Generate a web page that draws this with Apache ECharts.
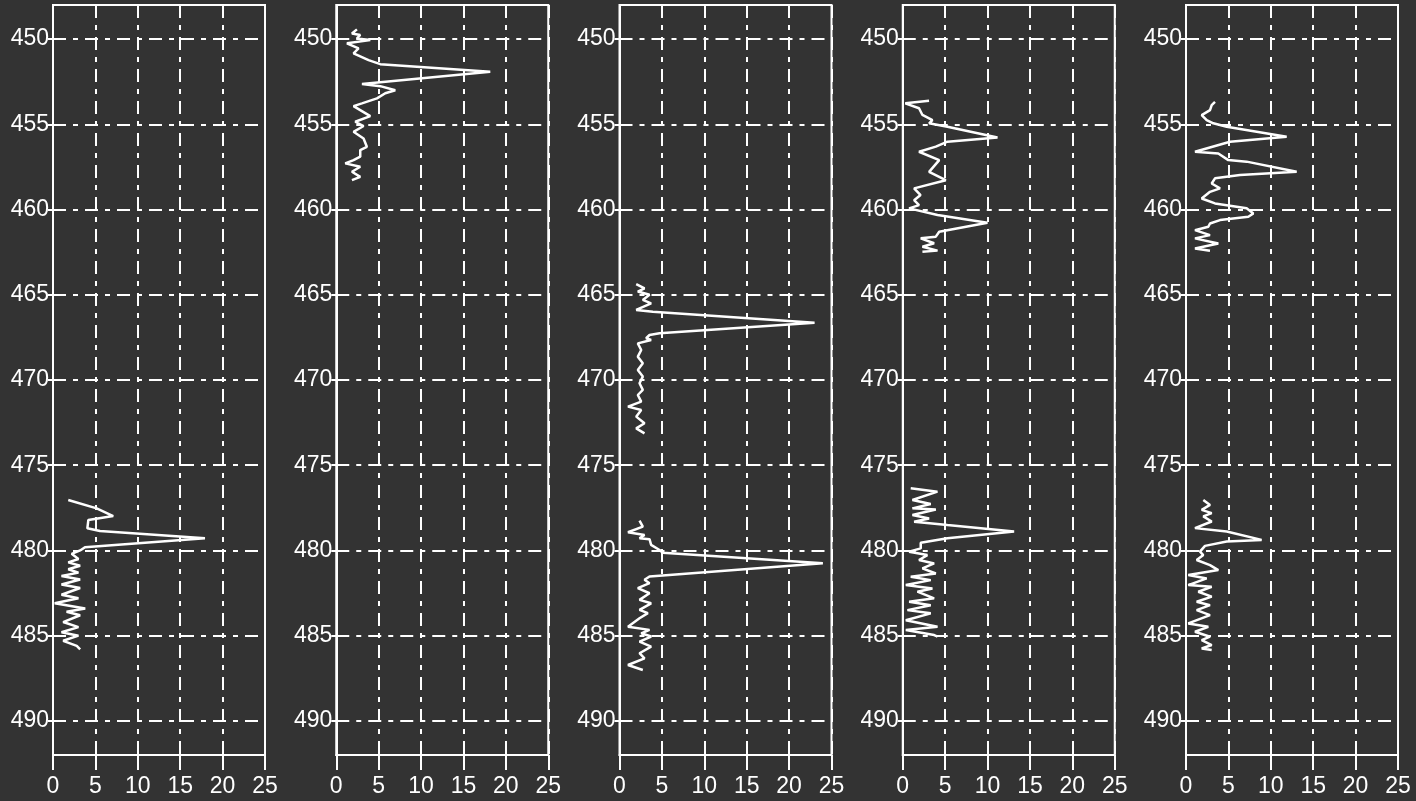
<!DOCTYPE html>
<html>
<head>
<meta charset="utf-8">
<script src="https://cdn.jsdelivr.net/npm/echarts@6/dist/echarts.min.js"></script>
<style>
  html, body { margin: 0; padding: 0; background: #333333; }
  #chart { width: 1416px; height: 801px; }
</style>
</head>
<body>
<div id="chart"></div>
<script>
// ---- Data (depth vs value, one curve per panel) ----
const depthTicks = [450, 455, 460, 465, 470, 475, 480, 485, 490];
const valueTicks = [0, 5, 10, 15, 20, 25];

const p1Depth = [477.04, 477.53, 477.98, 478.21, 478.70, 478.86, 479.29, 479.81, 480.0, 480.2, 480.5, 480.7, 480.9, 481.1, 481.3, 481.5, 481.7, 482.0, 482.2, 482.6, 482.8, 483.1, 483.4, 483.6, 483.8, 484.2, 484.5, 484.8, 485.0, 485.3, 485.6, 485.8];
const p1Value = [1.8, 5.15, 7.1, 4.17, 4.05, 5.54, 17.92, 3.77, 3.2, 2.2, 3.0, 1.8, 3.2, 1.8, 3.0, 1.0, 3.2, 1.0, 3.2, 1.0, 3.0, 0.2, 3.8, 1.6, 3.2, 1.2, 3.0, 1.0, 3.0, 1.2, 2.8, 3.2];

const p2Depth = [449.43, 449.67, 449.76, 449.96, 450.06, 450.25, 450.55, 450.84, 451.23, 451.47, 451.92, 452.64, 452.76, 453.0, 453.18, 453.48, 453.77, 453.93, 454.52, 454.85, 455.1, 455.44, 455.83, 456.32, 456.51, 456.9, 457.1, 457.29, 457.49, 457.78, 458.08, 458.27];
const p2Value = [2.44, 1.85, 2.83, 2.44, 4.01, 1.26, 2.63, 2.04, 3.81, 5.19, 18.16, 3.03, 5.19, 6.96, 5.78, 4.8, 3.03, 2.04, 4.01, 2.24, 3.22, 2.04, 3.22, 3.61, 2.83, 2.83, 2.04, 1.06, 2.83, 1.85, 2.83, 1.85];

const p3Depth = [464.37, 464.62, 464.81, 465.0, 465.3, 465.5, 465.89, 465.99, 466.64, 467.26, 467.36, 467.55, 467.65, 467.85, 468.24, 468.63, 469.02, 469.41, 469.8, 470.19, 470.58, 470.88, 471.27, 471.56, 471.76, 472.15, 472.54, 472.84, 473.13, null,
  478.25, 478.6, 478.93, 479.09, 479.28, 479.34, 479.67, 479.97, 480.13, 480.75, 481.53, 481.72, 481.92, 482.21, 482.51, 482.9, 483.1, 483.49, 483.68, 483.98, 484.47, 484.66, 484.86, 485.05, 485.35, 485.64, 486.03, 486.33, 486.72, 487.01];
const p3Value = [1.97, 2.95, 2.16, 3.54, 2.75, 3.73, 1.97, 3.93, 23.0, 4.72, 3.54, 3.14, 3.73, 2.16, 2.56, 2.16, 2.75, 2.16, 2.75, 2.36, 2.75, 2.16, 2.56, 1.0, 2.56, 1.97, 2.95, 1.97, 2.95, null,
  2.36, 2.75, 1.0, 2.95, 2.36, 3.54, 3.73, 4.72, 5.11, 23.98, 3.54, 2.95, 3.54, 2.16, 3.54, 2.36, 3.73, 2.36, 3.34, 2.36, 1.0, 3.54, 2.56, 3.73, 2.36, 3.73, 2.36, 2.95, 1.0, 2.75];

const p4Depth = [453.62, 453.77, 454.06, 454.45, 454.75, 454.94, 455.14, 455.77, 456.02, 456.31, 456.61, 457.1, 457.79, 458.28, 458.76, 459.15, 459.45, 459.74, 459.93, 460.32, 460.77, 461.3, 461.59, 461.69, 461.98, 462.18, 462.41, 462.47, null,
  476.35, 476.55, 477.04, 477.28, 477.53, 477.6, 477.92, 478.12, 478.31, 478.51, 478.89, 479.29, 479.55, 479.88, 480.07, 480.27, 480.56, 480.76, 481.05, 481.35, 481.54, 481.74, 482.03, 482.23, 482.42, 482.81, 483.01, 483.21, 483.5, 483.69, 484.09, 484.48, 484.67, 484.96, 485.06];
const p4Value = [3.1, 0.3, 1.92, 2.32, 3.5, 3.11, 5.27, 11.17, 5.27, 3.9, 1.92, 4.3, 3.11, 5.07, 1.34, 2.1, 1.34, 1.92, 0.75, 4.1, 9.99, 4.3, 3.9, 2.12, 3.7, 2.32, 4.1, 2.32, null,
  0.94, 4.09, 1.14, 3.3, 1.14, 3.9, 1.14, 3.11, 1.34, 5.27, 13.13, 5.27, 2.12, 2.12, 0.75, 2.9, 1.92, 3.7, 2.32, 3.9, 0.94, 3.3, 0.36, 3.5, 1.73, 3.7, 0.75, 3.3, 0.55, 3.3, 0.36, 4.1, 0.36, 3.7, 4.1];

const p5Depth = [453.68, 453.87, 454.17, 454.46, 454.75, 454.94, 455.14, 455.73, 456.02, 456.61, 456.71, 457.1, 457.19, 457.78, 457.98, 458.17, 458.47, 458.76, 458.96, 459.35, 459.64, 459.93, 460.23, 460.42, 460.62, 460.82, 461.01, 461.21, 461.5, 461.69, 461.99, 462.28, 462.42, null,
  477.04, 477.33, 477.62, 477.81, 478.0, 478.3, 478.69, 478.89, 479.38, 479.48, 479.73, 480.07, 480.27, 480.56, 480.86, 481.15, 481.44, 481.64, 482.03, 482.13, 482.42, 482.71, 483.01, 483.21, 483.5, 483.79, 484.28, 484.48, 484.77, 485.06, 485.26, 485.55, 485.75, 485.84];
const p5Value = [3.42, 3.03, 2.83, 1.85, 2.44, 3.22, 4.8, 11.87, 5.19, 1.06, 3.81, 4.99, 7.15, 13.05, 6.37, 3.42, 3.03, 4.01, 2.83, 1.85, 3.42, 7.15, 7.94, 7.35, 4.01, 2.83, 2.63, 1.06, 2.83, 1.06, 3.81, 1.06, 2.83, null,
  2.04, 2.83, 1.85, 3.03, 2.04, 3.03, 1.06, 4.8, 8.92, 4.8, 2.24, 1.65, 2.04, 1.26, 2.83, 3.81, 0.27, 2.44, 0.27, 3.03, 1.45, 3.03, 1.26, 2.83, 1.26, 2.83, 0.27, 2.63, 1.06, 2.83, 1.85, 3.03, 1.85, 3.03];

const panels = [
  [p1Value, p1Depth], [p2Value, p2Depth], [p3Value, p3Depth], [p4Value, p4Depth], [p5Value, p5Depth]
];

// ---- Chart ----
const chart = echarts.init(document.getElementById('chart'), null, { renderer: 'canvas' });
const white = '#ffffff';
const font = 'Liberation Sans, Arial, sans-serif';
const dash = [13, 7, 5, 7];

const grids = [], xAxes = [], yAxes = [], series = [];
panels.forEach((p, i) => {
  grids.push({
    left: 53 + i * 283.25, top: 5, width: 212, height: 750,
    show: true, borderColor: white, borderWidth: 2, backgroundColor: 'transparent',
    containLabel: false
  });
  xAxes.push({
    gridIndex: i, type: 'value', position: 'bottom',
    min: valueTicks[0], max: valueTicks[valueTicks.length - 1], interval: 5,
    axisLine: { show: true, onZero: false, lineStyle: { color: white, width: 2 } },
    axisTick: { show: true, inside: false, length: 15, lineStyle: { color: white, width: 2 } },
    axisLabel: { show: true, color: white, fontSize: 23, fontFamily: font, margin: 20 },
    splitLine: { show: true, lineStyle: { color: white, width: 2, type: dash } }
  });
  yAxes.push({
    gridIndex: i, type: 'value', inverse: true,
    min: 448, max: 492,
    axisLine: { show: true, onZero: false, lineStyle: { color: white, width: 2 } },
    axisTick: { show: true, inside: false, length: 5, customValues: depthTicks, lineStyle: { color: white, width: 2 } },
    axisLabel: { show: true, color: white, fontSize: 23, fontFamily: font, margin: 4, customValues: depthTicks },
    splitLine: { show: false }
  });
  const data = p[0].map((v, k) => (v === null ? [null, null] : [v, p[1][k]]));
  series.push({
    type: 'line', xAxisIndex: i, yAxisIndex: i,
    data: data, showSymbol: false, symbol: 'none', connectNulls: false,
    lineStyle: { color: white, width: 2.5 },
    animation: false,
    markLine: {
      silent: true, symbol: 'none', animation: false,
      label: { show: false },
      lineStyle: { color: white, width: 2, type: dash },
      data: depthTicks.map(d => ({ yAxis: d }))
    }
  });
});

chart.setOption({
  backgroundColor: '#333333',
  animation: false,
  grid: grids,
  xAxis: xAxes,
  yAxis: yAxes,
  series: series
});
</script>
</body>
</html>
